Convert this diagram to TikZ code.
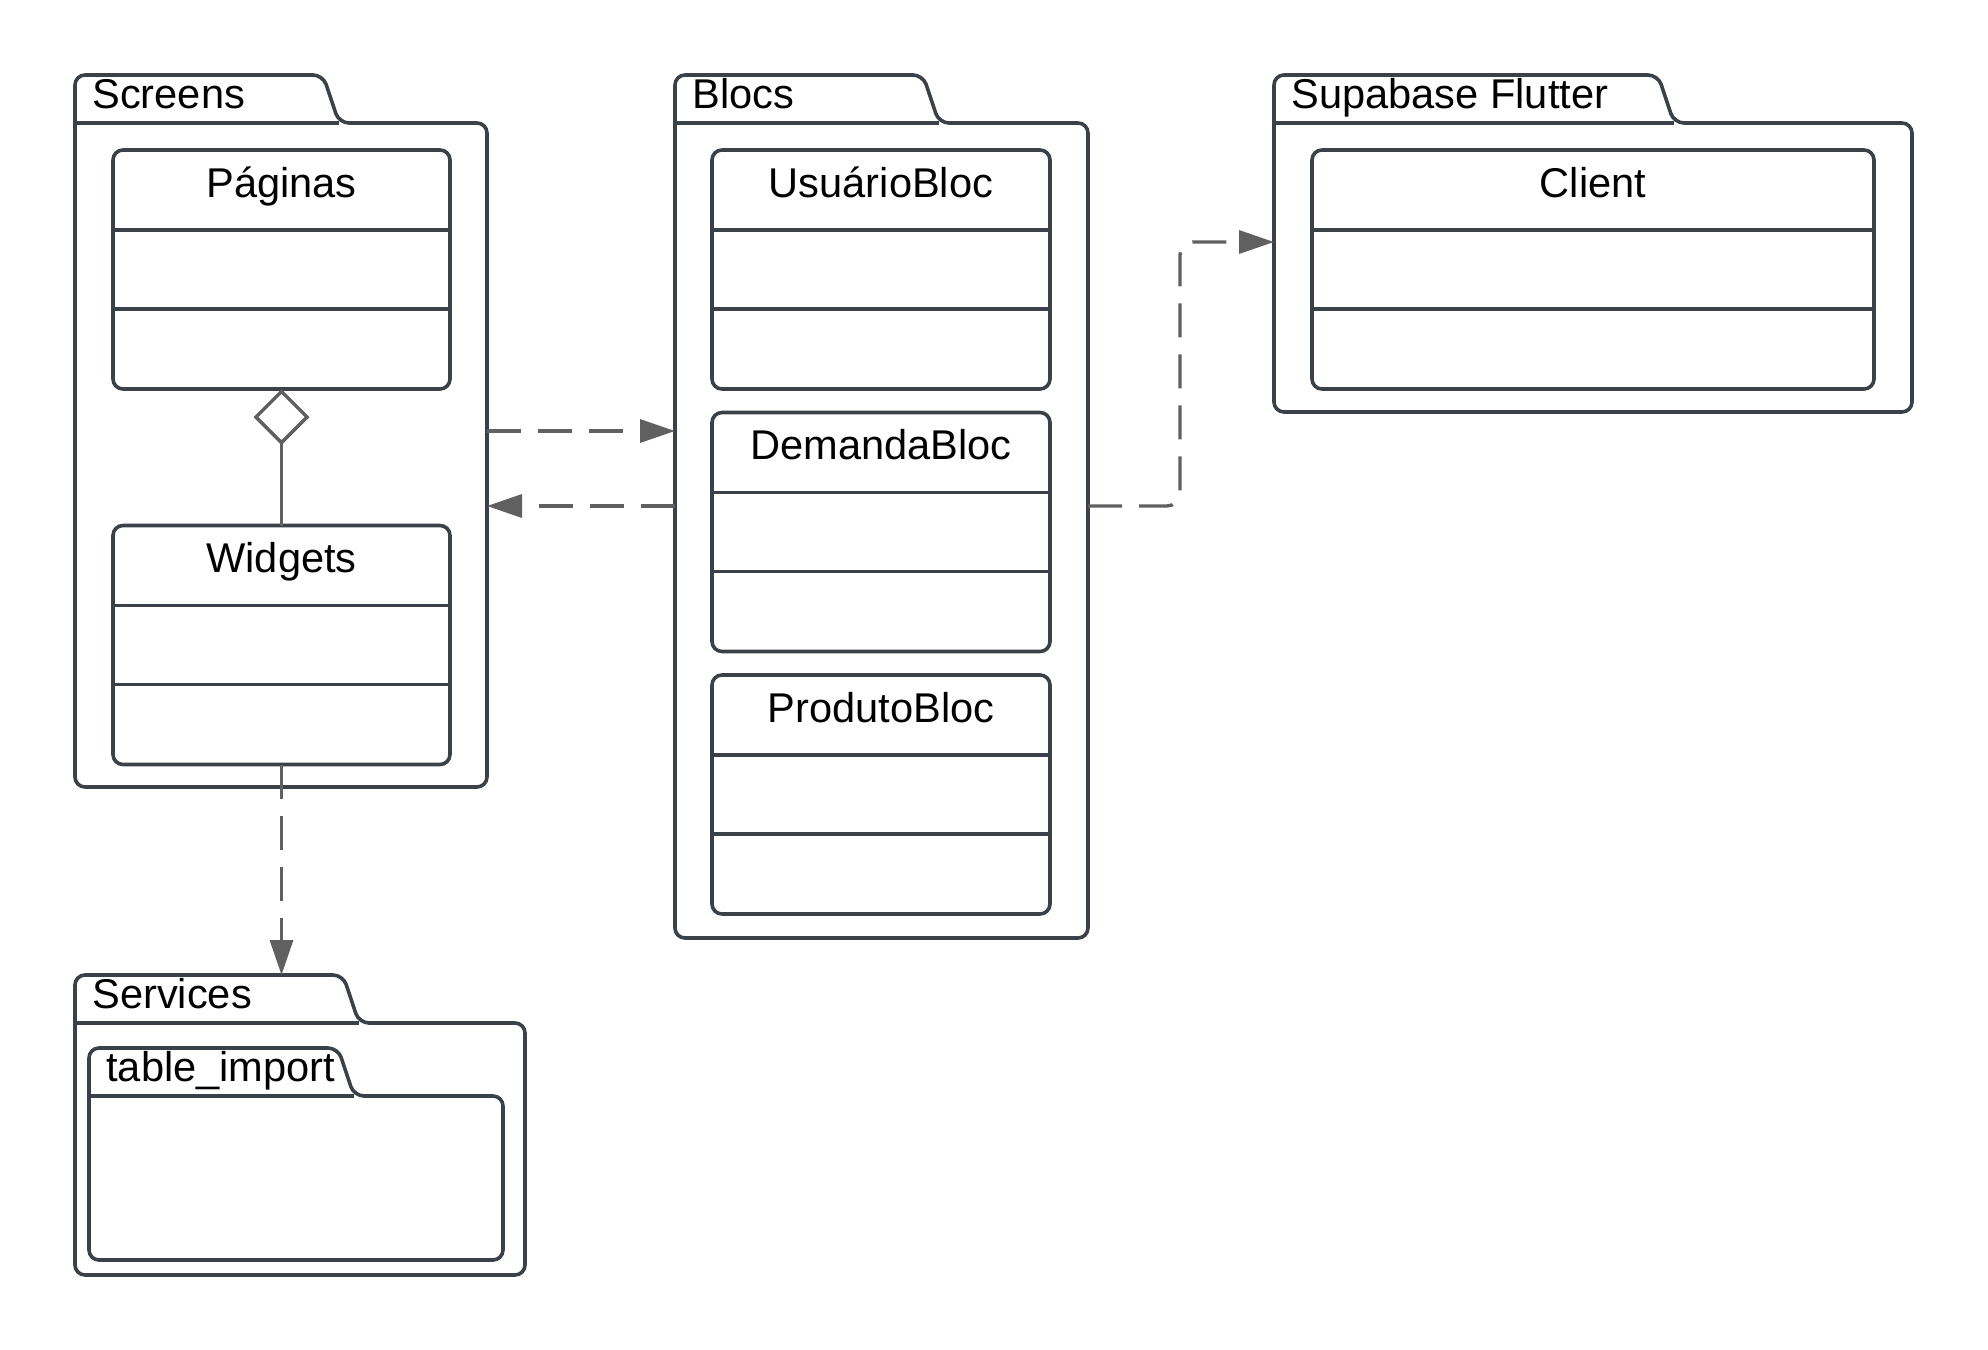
\documentclass[tikz,border=0pt]{standalone}
\usepackage{fontspec}
\setmainfont{Liberation Sans}
\usetikzlibrary{arrows.meta}
\definecolor{pkgline}{HTML}{3B4149}
\definecolor{conline}{HTML}{606060}
\newcommand{\diafont}{\fontsize{20.8pt}{25pt}\selectfont}
\tikzset{
  pkgbody/.style={inner sep=0pt, outer sep=0pt},
  pkg/.style={draw=pkgline, line width=1.8pt, rounded corners=5pt},
  cls/.style={draw=pkgline, line width=1.8pt, rounded corners=5pt, inner sep=0pt, outer sep=0pt},
  lbl/.style={font=\diafont, anchor=base west, inner sep=0pt},
  ttl/.style={font=\diafont, anchor=base, inner sep=0pt},
  dep/.style={draw=conline, line width=1.7pt, dash pattern=on 17pt off 8.5pt,
    -{Triangle[length=17.5pt, width=11.5pt]}},
  agg/.style={draw=conline, line width=1.7pt, -{Diamond[open, length=28pt, width=28pt]}},
}
% #1 name, #2 top left of body, #3 width, #4 height, #5 tab width, #6 label
\newcommand{\umlpkg}[6]{%
  \node[pkgbody, minimum width=#3, minimum height=#4, anchor=north west] (#1) at #2 {};
  \draw[pkg] (#1.north west) -- ++(0,-48) coordinate (#1-tab) -- ++(#5,0) -- ++(16,48)
    -- (#1.north east) -- (#1.south east) -- (#1.south west) -- cycle;
  \draw[pkg] (#1.north west) -- ++(#5+16,0);
  \node[lbl] (#1-l) at ([xshift=8.5pt,yshift=7.5pt]#1.north west) {#6};
}
% #1 name, #2 centre, #3 width, #4 title
\newcommand{\umlclass}[4]{%
  \node[cls, minimum width=#3, minimum height=119.5pt] (#1) at #2 {};
  \draw[cls] ([yshift=-40pt]#1.north west) -- ([yshift=-40pt]#1.north east)
    ([yshift=40pt]#1.south west) -- ([yshift=40pt]#1.south east);
  \node[ttl] (#1-t) at ([yshift=-23.5pt]#1.north) {#4};
}
\begin{document}
\begin{tikzpicture}[x=0.5pt, y=-0.5pt]
\useasboundingbox (0,0) rectangle (1988,1350);
% packages
\umlpkg{scr}{(75,123)}{206pt}{332pt}{248}{Screens}
\umlpkg{blc}{(675,123)}{206.5pt}{407.5pt}{248}{Blocs}
\umlpkg{sup}{(1274,123)}{319pt}{144.5pt}{384}{Supabase Flutter}
\umlpkg{srv}{(75,1023)}{225pt}{126pt}{268}{Services}
\umlpkg{tbl}{(89,1096)}{207pt}{82pt}{249}{table\_import}
% classes
\umlclass{pag}{(281.5,269.5)}{168.5pt}{Páginas}
\umlclass{wid}{(281.5,645)}{168.5pt}{Widgets}
\umlclass{usu}{(881,269.5)}{169pt}{UsuárioBloc}
\umlclass{dem}{(881,532)}{169pt}{DemandaBloc}
\umlclass{pro}{(881,794.5)}{169pt}{ProdutoBloc}
\umlclass{cli}{(1593,269.5)}{281pt}{Client}
% connectors
\coordinate (scr-o) at ([yshift=12pt]scr.east);
\coordinate (scr-i) at ([yshift=-25.5pt]scr.east);
\coordinate (sup-i) at ([yshift=12.75pt]sup.west);
\draw[agg] (wid.north) -- (pag.south);
\draw[dep] (wid.south) -- (wid.south |- srv-tab);
\draw[dep] (scr-o) -- (scr-o -| blc.west);
\draw[dep] (scr-i -| blc.west) -- (scr-i);
\draw[dep, rounded corners=6.5pt] (scr-i -| blc.east) -- ++(92,0) |- (sup-i);
\end{tikzpicture}
\end{document}
